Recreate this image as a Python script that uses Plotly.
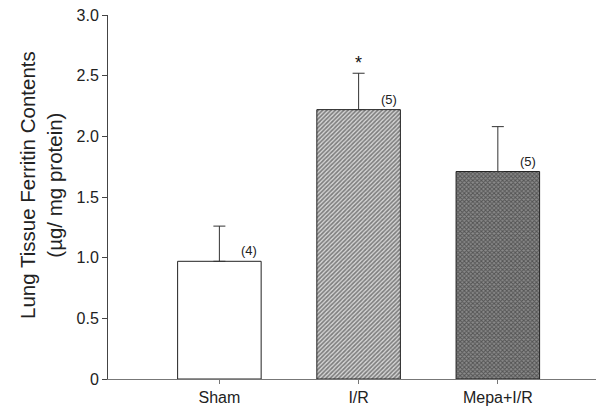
import plotly.graph_objects as go

groups = ["Sham", "I/R", "Mepa+I/R"]
means = [0.97, 2.22, 1.71]
errors = [0.29, 0.30, 0.37]
n_labels = ["(4)", "(5)", "(5)"]
sig_marks = ["", "*", ""]
ytick_vals = [0, 0.5, 1.0, 1.5, 2.0, 2.5, 3.0]
ytick_text = ["0", "0.5", "1.0", "1.5", "2.0", "2.5", "3.0"]

font_family = "Liberation Sans, Arial, sans-serif"

fig = go.Figure()

fills = ["white", "#d8d8d8", "#8a8a8a"]
shapes = ["", "/", "x"]
fgcolors = ["black", "#222222", "#1e1e1e"]
sizes = [4, 3, 3]
solidity = [0.3, 0.55, 0.55]

for i, g in enumerate(groups):
    fig.add_trace(go.Bar(
        x=[g], y=[means[i]],
        width=0.6,
        marker=dict(
            color=fills[i],
            line=dict(color="#222222", width=1),
            pattern=dict(shape=shapes[i], fgcolor=fgcolors[i], bgcolor=fills[i],
                         size=sizes[i], solidity=solidity[i]),
        ),
        error_y=dict(type="data", symmetric=False, array=[errors[i]], arrayminus=[0],
                     color="#333333", thickness=1, width=6),
        showlegend=False,
    ))

annotations = []
for i, g in enumerate(groups):
    annotations.append(dict(x=g, y=means[i], text=n_labels[i], showarrow=False,
                            xref="x", yref="y", xshift=30, yanchor="bottom", yshift=1,
                            font=dict(size=13, family=font_family, color="#222")))
    if sig_marks[i]:
        annotations.append(dict(x=g, y=means[i] + errors[i], text=sig_marks[i], showarrow=False,
                                xref="x", yref="y", yanchor="bottom", yshift=-2,
                                font=dict(size=18, family=font_family, color="#111")))

annotations.append(dict(
    text="Lung Tissue Ferritin Contents<br>(µg/ mg protein)",
    xref="paper", yref="paper", x=0, y=0.5, xanchor="center", yanchor="middle",
    xshift=-67, yshift=12, textangle=-90, showarrow=False,
    font=dict(size=20.5, family=font_family, color="#222"),
))

fig.update_layout(
    width=604, height=416,
    margin=dict(l=100, r=0, t=7, b=45),
    plot_bgcolor="white", paper_bgcolor="white",
    font=dict(family=font_family, size=16, color="#222"),
    annotations=annotations,
    bargap=0.4,
)
fig.update_xaxes(
    type="category", range=[-0.8, 2.82],
    showline=True, linecolor="#777777", linewidth=1,
    ticks="outside", ticklen=4, tickcolor="#777777",
    tickfont=dict(size=16), showgrid=False, zeroline=False,
)
fig.update_yaxes(
    range=[0, 3.0], tickvals=ytick_vals, ticktext=ytick_text,
    showline=True, linecolor="#444444", linewidth=1,
    ticks="outside", ticklen=5, tickcolor="#444444",
    tickfont=dict(size=16), showgrid=False, zeroline=False,
    ticklabeloverflow="allow",
)

fig.write_html("out.html")
